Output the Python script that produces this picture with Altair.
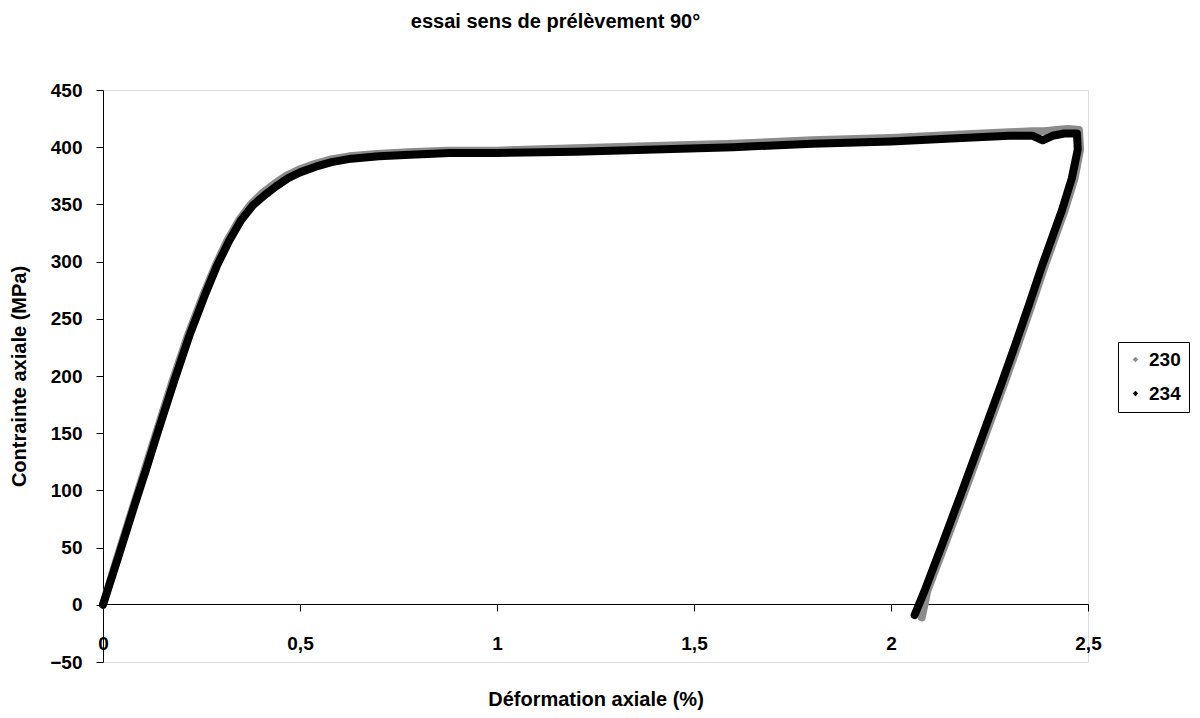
import altair as alt
import pandas as pd

# Series 230 (gray)
x230 = [0, 0.035, 0.075, 0.105, 0.135, 0.175, 0.215, 0.255, 0.285, 0.315, 0.345, 0.375,
        0.405, 0.435, 0.465, 0.495, 0.535, 0.575, 0.625, 0.695, 0.775, 0.875, 1.0, 1.2, 1.4,
        1.6, 1.8, 2.0, 2.18, 2.30, 2.36, 2.39, 2.42, 2.45, 2.477,
        2.480, 2.466, 2.441, 2.415, 2.390, 2.357, 2.323, 2.288, 2.237, 2.187, 2.136, 2.092, 2.078]
y230 = [0, 40, 84, 117, 150, 194, 235, 271, 296, 318, 336, 350,
        360, 368, 375, 380, 385, 389, 392, 394, 395.5, 397, 397, 399, 401,
        403, 406, 408, 411, 413, 414, 414, 415, 416, 415,
        398, 373, 345, 320, 296, 262, 228, 194, 146, 99, 52, 12, -11]

# Series 234 (black)
x234 = [0, 0.04, 0.08, 0.11, 0.14, 0.18, 0.22, 0.26, 0.29, 0.32, 0.35, 0.38,
        0.41, 0.44, 0.47, 0.50, 0.54, 0.58, 0.63, 0.70, 0.78, 0.88, 1.0, 1.2, 1.4,
        1.6, 1.8, 2.0, 2.18, 2.30, 2.36, 2.385, 2.41, 2.44, 2.472,
        2.474, 2.459, 2.434, 2.408, 2.383, 2.350, 2.316, 2.281, 2.230, 2.180, 2.129, 2.085, 2.060]
y234 = [0, 43, 87, 119, 152, 195, 236, 272, 297, 318, 336, 349,
        358, 366, 373, 378, 383, 387, 390, 392, 393.5, 395, 395, 396, 398,
        400, 403, 405, 408, 410, 410, 406, 410, 412, 412,
        398, 373, 345, 320, 296, 262, 228, 194, 146, 99, 52, 12, -9]

series = ["230", "234"]
x_ticks = [0, 0.5, 1, 1.5, 2, 2.5]
y_ticks = [-50, 0, 50, 100, 150, 200, 250, 300, 350, 400, 450]

rows = []
for name, xs, ys in [("230", x230, y230), ("234", x234, y234)]:
    for i, (a, b) in enumerate(zip(xs, ys)):
        rows.append({"serie": name, "i": i, "x": a, "y": b})
df = pd.DataFrame(rows)

FONT = "Liberation Sans"

xscale = alt.Scale(domain=[0, 2.5], nice=False, zero=False)
yscale = alt.Scale(domain=[-50, 450], nice=False, zero=False)

xaxis = alt.Axis(values=x_ticks, labelExpr="replace(toString(datum.value), '.', ',')",
                 offset=-58, grid=False, tickSize=7, labelPadding=23, labelFontSize=19,
                 labelFont=FONT, labelFontWeight="bold", labelColor="black", labelFlush=False,
                 domainColor="black", tickColor="black",
                 title="Déformation axiale (%)", titleFont=FONT, titleFontSize=20,
                 titleFontWeight="bold", titlePadding=36, titleColor="black")
yaxis = alt.Axis(values=y_ticks, grid=False, tickSize=7, labelPadding=14, labelFontSize=19,
                 labelFont=FONT, labelFontWeight="bold", labelColor="black", labelFlush=False,
                 domainColor="black", tickColor="black",
                 title="Contrainte axiale (MPa)", titleFont=FONT, titleFontSize=20,
                 titleFontWeight="bold", titlePadding=20, titleColor="black")

base = alt.Chart(df)

points = base.mark_point(shape="diamond", filled=True, size=30, opacity=1).encode(
    x=alt.X("x:Q", scale=xscale, axis=xaxis),
    y=alt.Y("y:Q", scale=yscale, axis=yaxis),
    color=alt.Color("serie:N", scale=alt.Scale(domain=series, range=["#8c8c8c", "#000000"]),
                    legend=alt.Legend(title=None, orient="none", legendX=1015, legendY=252,
                                      strokeColor="black", padding=8, symbolOffset=0,
                                      labelOffset=4, rowPadding=14, symbolType="diamond",
                                      symbolSize=30, symbolStrokeWidth=0, labelFontSize=19,
                                      labelFont=FONT, labelLimit=60,
                                      labelFontWeight="bold", labelColor="black",
                                      fillColor="white")),
)

line230 = base.transform_filter(alt.datum.serie == "230").mark_line(
    color="#8c8c8c", strokeWidth=8, strokeJoin="round", strokeCap="round").encode(
    x="x:Q", y="y:Q", order="i:Q")
line234 = base.transform_filter(alt.datum.serie == "234").mark_line(
    color="#000000", strokeWidth=8, strokeJoin="round", strokeCap="round").encode(
    x="x:Q", y="y:Q", order="i:Q")

chart = alt.layer(points, line230, line234).properties(
    width=985, height=572,
    title=alt.TitleParams("essai sens de prélèvement 90°", font=FONT, fontSize=20,
                          fontWeight="bold", color="black", dx=-40, dy=-45),
    autosize=alt.AutoSizeParams(type="none"),
    padding={"left": 95, "top": 82, "right": 104, "bottom": 48},
).configure_view(stroke="#808080", strokeWidth=1).configure(background="white")

chart.save("out.html", embed_options={"renderer": "svg", "actions": False})
